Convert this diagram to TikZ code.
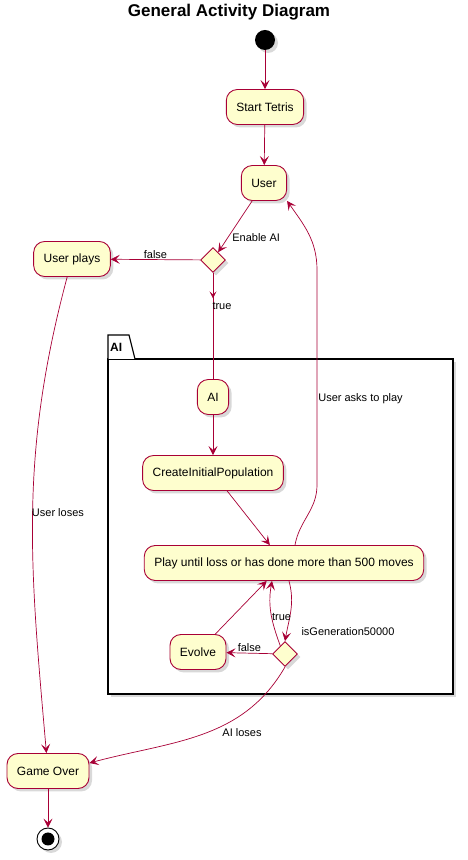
\documentclass[tikz,border=0pt]{standalone}
\usepackage{fontspec}
\setmainfont{Liberation Sans}
\usepackage{tikz}
\usepackage{xcolor}
\usetikzlibrary{shapes,arrows,positioning,shadows,calc,shapes.geometric,arrows.meta,decorations.markings}
\definecolor{umlred}{RGB}{168,0,54}
\definecolor{umlfill}{RGB}{254,254,206}

\begin{document}
\begin{tikzpicture}[x=1pt, y=1pt,
    act/.style={draw=umlred, line width=0.9pt, fill=umlfill, rounded corners=11pt, minimum height=35pt, inner xsep=10pt, font=\fontsize{12}{14}\selectfont, drop shadow={shadow xshift=3pt, shadow yshift=-3pt, opacity=0.3}},
    cond/.style={draw=umlred, line width=0.9pt, fill=umlfill, diamond, minimum size=25pt, inner sep=0pt, drop shadow={shadow xshift=3pt, shadow yshift=-3pt, opacity=0.3}},
    flow/.style={draw=umlred, line width=0.7pt, -{Stealth[length=9pt,width=9pt,inset=4pt]}},
    midflow/.style={draw=umlred, line width=0.7pt, postaction={decorate}, decoration={markings, mark=at position 0.24 with {\arrow{Stealth[length=7pt,width=7pt,inset=3pt]}}}},
    lbl/.style={font=\fontsize{11}{13}\selectfont, inner sep=1pt}]
  \useasboundingbox (0,0) rectangle (468,860);

  \node[font=\fontsize{17}{20}\selectfont\bfseries] (title) at (229,848) {General Activity Diagram};

  % package frame
  \draw[line width=1.2pt, fill=white, drop shadow={shadow xshift=3pt, shadow yshift=-3pt, opacity=0.3}] (108,166) rectangle (453,501);
  \draw[line width=1.2pt, fill=white] (108,501) -- (108,525) -- (129,525) -- (135,501);
  \node[font=\fontsize{12}{14}\selectfont\bfseries, anchor=west, inner sep=1pt] (pkg) at (109,513) {AI};

  % nodes
  \node[circle, fill=black, minimum size=20pt, inner sep=0pt, drop shadow={shadow xshift=3pt, shadow yshift=-3pt, opacity=0.3}] (start) at (265,820) {};
  \node[act] (tetris) at (265,753) {Start Tetris};
  \node[act] (user) at (264,677) {User};
  \node[cond] (enable) at (213,600) {};
  \node[act] (uplays) at (72,601) {User plays};
  \node[act] (ai) at (213,463) {AI};
  \node[act] (cip) at (213,387) {CreateInitialPopulation};
  \node[act] (play) at (284,297) {Play until loss or has done more than 500 moves};
  \node[act] (evolve) at (198,208) {Evolve};
  \node[cond] (gen) at (285,206) {};
  \node[lbl] (genlbl) at (348,228) {isGeneration50000};
  \node[act] (over) at (48,89) {Game Over};
  \node[circle, draw=black, line width=0.9pt, fill=white, minimum size=22pt, inner sep=0pt, drop shadow={shadow xshift=3pt, shadow yshift=-3pt, opacity=0.3}] (stop) at (48,21) {};
  \node[circle, fill=black, minimum size=13pt, inner sep=0pt] (stopin) at (stop) {};

  % connectors
  \draw[flow] (start) -- (tetris);
  \draw[flow] (tetris) -- (user);
  \draw[flow] (user) -- (enable) node[lbl, pos=0.71, anchor=west, xshift=3pt] {Enable AI};
  \draw[flow] (enable) -- (uplays) node[lbl, midway, above] {false};
  \draw[midflow] (enable) -- (ai) node[lbl, pos=0.31, xshift=9pt] {true};
  \draw[flow] (ai) -- (cip);
  \draw[flow] (cip) -- (play);
  \draw[flow] ([xshift=11pt]play.north) to[out=80,in=-90] ++(22,60) -- ++(0,215) node[lbl, pos=0.4, anchor=west] {User asks to play} to[out=90,in=-55] (user.south east);
  \draw[flow] ([xshift=5pt]play.south) to[out=-75,in=80] (gen.north);
  \draw[flow] (gen.120) to[out=110,in=-100] node[lbl, pos=0.45, anchor=west, xshift=-1pt] {true} ([xshift=-12pt]play.south);
  \draw[flow] (gen) -- (evolve) node[lbl, midway, above] {false};
  \draw[flow] (evolve) -- (play);
  \draw[flow] (gen.south) to[out=-120,in=15] node[lbl, pos=0.25, anchor=north, yshift=-17pt, xshift=-6pt] {AI loses} ([yshift=8pt]over.east);
  \draw[flow] (uplays) to[out=-105,in=95] node[lbl, pos=0.5, anchor=west, xshift=-2pt] {User loses} (over);
  \draw[flow] (over) -- (stop);
\end{tikzpicture}
\end{document}
